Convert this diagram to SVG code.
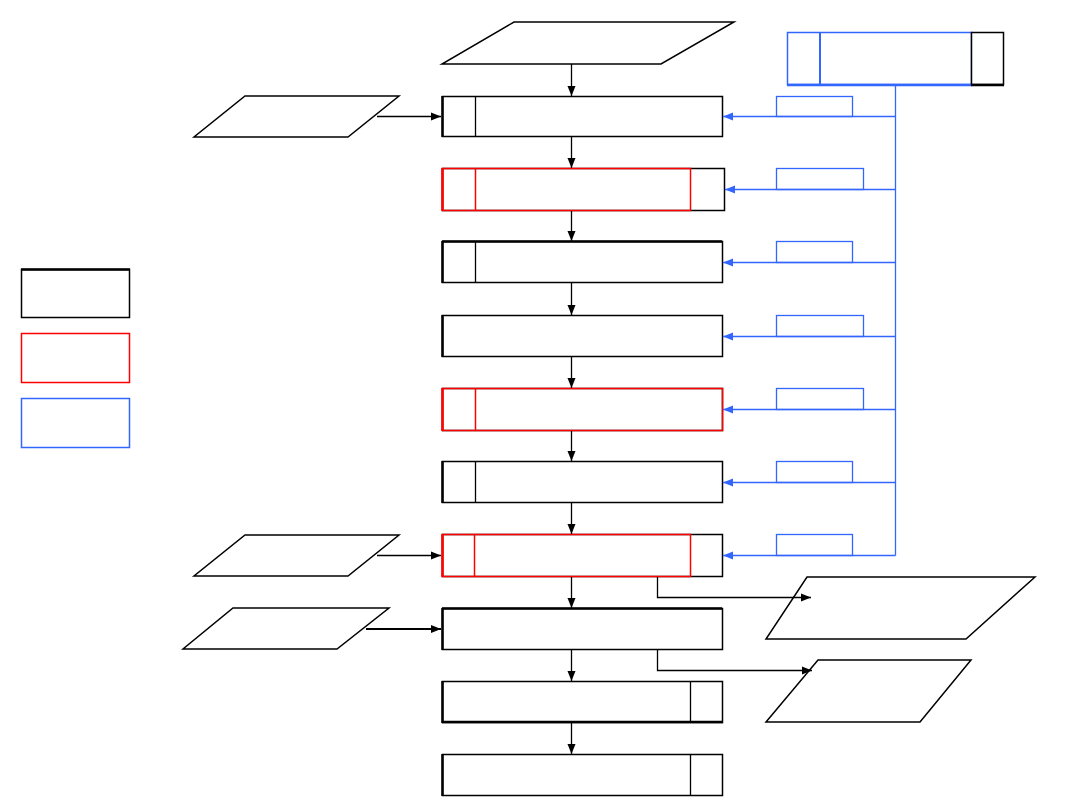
<svg xmlns="http://www.w3.org/2000/svg" width="1080" height="810" viewBox="0 0 1080 810">
<defs>
<marker id="ak" viewBox="0 0 10 10" refX="10" refY="5" markerWidth="10" markerHeight="10" markerUnits="userSpaceOnUse" orient="auto"><path d="M0,1 L10,5 L0,9 Z" fill="#000"/></marker>
<marker id="ab" viewBox="0 0 10 10" refX="10" refY="5" markerWidth="10" markerHeight="10" markerUnits="userSpaceOnUse" orient="auto"><path d="M0,1 L10,5 L0,9 Z" fill="#3366ff"/></marker>
</defs>
<style>
.k{fill:#fff;stroke:#000;stroke-width:1.5}
.r{fill:none;stroke:#ff0000;stroke-width:1.5}
.b{fill:#fff;stroke:#3366ff;stroke-width:1.5}
.ln{fill:none;stroke:#000;stroke-width:1.3}
.bl{fill:none;stroke:#3366ff;stroke-width:1.3}
.th{stroke:#000;stroke-width:2.5}
</style>
<rect width="1080" height="810" fill="#fff"/>
<g id="legend">
<rect class="k" x="21.5" y="269.5" width="108" height="48"/>
<line class="th" x1="21" y1="269.5" x2="130" y2="269.5"/>
<rect class="r" x="21.5" y="333.5" width="108" height="49"/>
<rect class="b" x="21.5" y="398.5" width="108" height="49"/>
</g>
<g id="input-top"><polygon class="k" points="514,22 734,22 661,64 442,64"/></g>
<g id="input-left1"><polygon class="k" points="245,96 399,96 348,137 194,137"/></g>
<g id="input-left2"><polygon class="k" points="245,535 399,535 348,576 194,576"/></g>
<g id="input-left3"><polygon class="k" points="233,608 389,608 337,649 183,649"/></g>
<g id="output-right1"><polygon class="k" points="807,577 1035,577 966,639 766,639"/></g>
<g id="output-right2"><polygon class="k" points="818,660 971,660 920,722 766,722"/></g>
<g id="control">
<rect class="b" x="787.5" y="32.5" width="184" height="52"/>
<line x1="820" y1="32" x2="820" y2="85" stroke="#3366ff" stroke-width="2"/>
<line x1="787" y1="85" x2="972" y2="85" stroke="#3366ff" stroke-width="2.5"/>
<rect class="k" x="971.5" y="32.5" width="32" height="52"/>
<line class="th" x1="971" y1="85" x2="1004" y2="85"/>
</g>
<g id="step1">
<rect class="k" x="442.5" y="96.5" width="280" height="40"/>
<line class="ln" x1="475.5" y1="96" x2="475.5" y2="137"/>
<line class="th" x1="442.5" y1="96" x2="442.5" y2="137"/>
</g>
<g id="step2">
<rect class="k" x="442.5" y="168.5" width="282" height="42"/>
<rect class="r" x="442.5" y="168.5" width="248" height="42"/>
<line class="r" x1="475.5" y1="168" x2="475.5" y2="211"/>
<line x1="442.5" y1="168" x2="442.5" y2="211" stroke="#ff0000" stroke-width="2.5"/>
</g>
<g id="step3">
<rect class="k" x="442.5" y="241.5" width="280" height="41"/>
<line class="ln" x1="475.5" y1="241" x2="475.5" y2="283"/>
<line class="th" x1="442" y1="241.5" x2="722" y2="241.5"/>
<line class="th" x1="442.5" y1="241" x2="442.5" y2="283"/>
</g>
<g id="step4">
<rect class="k" x="442.5" y="315.5" width="280" height="41"/>
<line class="th" x1="442.5" y1="315" x2="442.5" y2="357"/>
</g>
<g id="step5">
<rect class="k" x="442.5" y="388.5" width="280" height="42"/>
<rect class="r" x="442.5" y="388.5" width="280" height="42"/>
<line class="r" x1="475.5" y1="388" x2="475.5" y2="431"/>
<line x1="442.5" y1="388" x2="442.5" y2="431" stroke="#ff0000" stroke-width="2.5"/>
</g>
<g id="step6">
<rect class="k" x="442.5" y="461.5" width="280" height="41"/>
<line class="ln" x1="475.5" y1="461" x2="475.5" y2="503"/>
<line class="th" x1="442.5" y1="461" x2="442.5" y2="503"/>
</g>
<g id="step7">
<rect class="k" x="442.5" y="534.5" width="280" height="42"/>
<rect class="r" x="442.5" y="534.5" width="248" height="42"/>
<line class="r" x1="474.5" y1="534" x2="474.5" y2="577"/>
<line x1="442.5" y1="534" x2="442.5" y2="577" stroke="#ff0000" stroke-width="2.5"/>
</g>
<g id="step8">
<rect class="k" x="442.5" y="608.5" width="280" height="41"/>
<line class="th" x1="442" y1="608.5" x2="722" y2="608.5"/>
<line class="th" x1="442.5" y1="608" x2="442.5" y2="650"/>
</g>
<g id="step9">
<rect class="k" x="442.5" y="681.5" width="280" height="41"/>
<line class="ln" x1="690.5" y1="681" x2="690.5" y2="723"/>
<line class="th" x1="442" y1="722" x2="723" y2="722"/>
<line class="th" x1="442.5" y1="681" x2="442.5" y2="723"/>
</g>
<g id="step10">
<rect class="k" x="442.5" y="754.5" width="280" height="41"/>
<line class="ln" x1="690.5" y1="754" x2="690.5" y2="796"/>
<line class="th" x1="442.5" y1="754" x2="442.5" y2="796"/>
</g>
<g id="connectors">
<line class="ln" x1="571.5" y1="64" x2="571.5" y2="96" marker-end="url(#ak)"/>
<line class="ln" x1="571.5" y1="137" x2="571.5" y2="168" marker-end="url(#ak)"/>
<line class="ln" x1="571.5" y1="211" x2="571.5" y2="241" marker-end="url(#ak)"/>
<line class="ln" x1="571.5" y1="283" x2="571.5" y2="315" marker-end="url(#ak)"/>
<line class="ln" x1="571.5" y1="357" x2="571.5" y2="388" marker-end="url(#ak)"/>
<line class="ln" x1="571.5" y1="431" x2="571.5" y2="461" marker-end="url(#ak)"/>
<line class="ln" x1="571.5" y1="503" x2="571.5" y2="534" marker-end="url(#ak)"/>
<line class="ln" x1="571.5" y1="577" x2="571.5" y2="608" marker-end="url(#ak)"/>
<line class="ln" x1="571.5" y1="650" x2="571.5" y2="681" marker-end="url(#ak)"/>
<line class="ln" x1="571.5" y1="723" x2="571.5" y2="754" marker-end="url(#ak)"/>
<line class="ln" x1="377" y1="116.5" x2="441" y2="116.5" marker-end="url(#ak)"/>
<line class="ln" x1="377" y1="555.5" x2="441" y2="555.5" marker-end="url(#ak)"/>
<line x1="366" y1="629" x2="441" y2="629" stroke="#000" stroke-width="2" marker-end="url(#ak)"/>
<polyline class="ln" points="657.5,577 657.5,597.5 811,597.5" marker-end="url(#ak)"/>
<polyline class="ln" points="657.5,650 657.5,670.5 812,670.5" marker-end="url(#ak)"/>
<line class="bl" x1="895.5" y1="85" x2="895.5" y2="555.5"/>
<line class="bl" x1="895.5" y1="116.5" x2="723" y2="116.5" marker-end="url(#ab)"/>
<line class="bl" x1="895.5" y1="189.5" x2="725" y2="189.5" marker-end="url(#ab)"/>
<line class="bl" x1="895.5" y1="262.5" x2="723" y2="262.5" marker-end="url(#ab)"/>
<line class="bl" x1="895.5" y1="336.5" x2="723" y2="336.5" marker-end="url(#ab)"/>
<line class="bl" x1="895.5" y1="409.5" x2="723" y2="409.5" marker-end="url(#ab)"/>
<line class="bl" x1="895.5" y1="482.5" x2="723" y2="482.5" marker-end="url(#ab)"/>
<line class="bl" x1="895.5" y1="555.5" x2="723" y2="555.5" marker-end="url(#ab)"/>
<rect class="bl" x="776.5" y="96.5" width="76" height="20"/>
<rect class="bl" x="776.5" y="168.5" width="87" height="21"/>
<rect class="bl" x="776.5" y="241.5" width="76" height="21"/>
<rect class="bl" x="776.5" y="315.5" width="87" height="21"/>
<rect class="bl" x="776.5" y="388.5" width="87" height="21"/>
<rect class="bl" x="776.5" y="461.5" width="76" height="21"/>
<rect class="bl" x="776.5" y="534.5" width="76" height="21"/>
</g>
</svg>
